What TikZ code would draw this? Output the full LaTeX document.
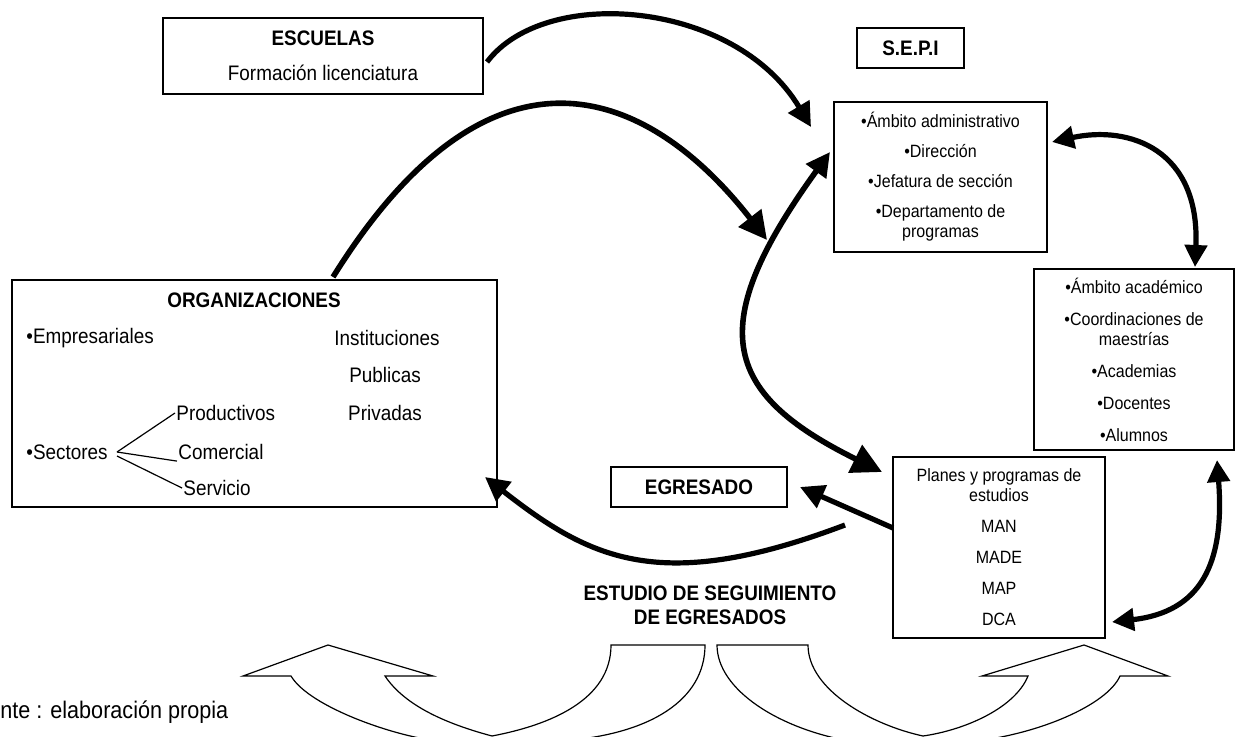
\documentclass[tikz,border=0pt]{standalone}
\usepackage{fontspec}
\setmainfont{Liberation Sans}[FakeStretch=0.9]
\usetikzlibrary{arrows.meta}

\newcommand\titulo{\fontsize{10.5}{12}\selectfont\bfseries}
\tikzset{
  caja/.style={draw, line width=0.7pt, inner sep=0pt, align=center, font=\fontsize{8.9}{10}\selectfont},
  texto/.style={inner sep=0.5pt, font=\fontsize{10.5}{12}\selectfont},
  flecha/.style={line width=2.6pt, -{Triangle[length=12pt,width=12pt]}},
  grande/.style={line width=2.8pt, -{Triangle[length=14pt,width=14pt]}},
  doble/.style={line width=2.6pt, {Triangle[length=11pt,width=11pt]}-{Triangle[length=11pt,width=11pt]}},
  hueca/.style={draw, line width=0.6pt, fill=white}
}

\begin{document}
\begin{tikzpicture}[x=0.5pt,y=-0.5pt]
\useasboundingbox (0,0) rectangle (1235,737);

% cajas
\node (escuelas) at (323,56)[caja, font=\fontsize{10.5}{12}\selectfont, minimum width=160pt, minimum height=38pt]{{\titulo ESCUELAS}\\[5.5pt]Formación licenciatura};
\node (sepi) at (910.5,48)[caja, font=\titulo, minimum width=53.5pt, minimum height=20pt]{S.E.P.I};
\node (admin) at (940.5,177)[caja, minimum width=106.5pt, minimum height=75pt]{•Ámbito administrativo\\[5pt]•Dirección\\[5pt]•Jefatura de sección\\[5pt]•Departamento de\\programas};
\node (academico) at (1134,359.5)[caja, minimum width=100pt, minimum height=90.5pt]{•Ámbito académico\\[6pt]•Coordinaciones de\\maestrías\\[6pt]•Academias\\[6pt]•Docentes\\[6pt]•Alumnos};
\node (planes) at (999,547.5)[caja, minimum width=106pt, minimum height=90.5pt]{Planes y programas de\\estudios\\[5.5pt]MAN\\[5.5pt]MADE\\[5.5pt]MAP\\[5.5pt]DCA};
\node (egresado) at (699,487)[caja, font=\titulo, minimum width=88pt, minimum height=20pt]{EGRESADO};

\begin{scope}
\node (org) at (254.5,393.5)[caja, minimum width=242.5pt, minimum height=113.5pt]{};
\node (orgtit) at (254,300)[font=\titulo]{ORGANIZACIONES};
\node (empresariales) at (25,338)[texto, anchor=west]{•Empresariales};
\node (instituciones) at (387,338)[texto]{Instituciones};
\node (publicas) at (385,375)[texto]{Publicas};
\node (privadas) at (385,413)[texto]{Privadas};
\node (sectores) at (25,452)[texto, anchor=west]{•Sectores};
\node (productivos) at (175,413)[texto, anchor=west]{Productivos};
\node (comercial) at (177,452)[texto, anchor=west]{Comercial};
\node (servicio) at (182,488)[texto, anchor=west]{Servicio};
\draw[line width=0.6pt] ([xshift=4pt]sectores.east) -- (productivos.west);
\draw[line width=0.6pt] ([xshift=4pt]sectores.east) -- (comercial.south west);
\draw[line width=0.6pt] ([xshift=4pt,yshift=-2pt]sectores.east) -- (servicio.west);
\end{scope}

\node (estudio) at (710,605)[align=center, font=\titulo]{ESTUDIO DE SEGUIMIENTO\\DE EGRESADOS};
\node (fuente) at (0,712)[anchor=west, inner sep=0pt, font=\fontsize{12}{14}\selectfont]{nte : elaboración propia};

% extremos libres de las flechas
\coordinate (sal1) at (487,62);
\coordinate (pun1) at (811,127);
\coordinate (sal2) at (333,277);
\coordinate (pun2) at (767,240);
\coordinate (pun3a) at (830,152);
\coordinate (pun3b) at (882,472);
\coordinate (sal4) at (893,528);
\coordinate (pun4) at (800,487);
\coordinate (sal5) at (845,525);
\coordinate (pun5) at (485,477);
\coordinate (pun6a) at (1052,142);
\coordinate (pun6b) at (1195,267);
\coordinate (pun7a) at (1217,460);
\coordinate (pun7b) at (1112,622);

\draw[flecha] (sal1) .. controls (545,-15) and (735,0) .. (pun1);
\draw[grande] (sal2) .. controls (493,20) and (650,90) .. (pun2);
\draw[line width=2.8pt, {Triangle[length=12pt,width=12pt]}-{Triangle[length=15pt,width=15pt]}] (pun3a) .. controls (705,325) and (720,392) .. (pun3b);
\draw[flecha] (sal4) -- (pun4);
\draw[flecha] (sal5) .. controls (660,595) and (590,559) .. (pun5);
\draw[doble] (pun6a) .. controls (1130,125) and (1200,150) .. (pun6b);
\draw[doble] (pun7a) .. controls (1225,565) and (1200,612) .. (pun7b);

% flechas huecas de abajo
\draw[hueca] (328,645) -- (433,676) -- (385,676)
  .. controls (405,706) and (447,724) .. (492,736)
  .. controls (550,725) and (611,700) .. (611,645) -- (705,645)
  .. controls (705,700) and (650,735) .. (560,741) -- (440,741)
  .. controls (400,738) and (310,708) .. (291,676) -- (243,676) -- cycle;
\draw[hueca] (717,645) -- (808,645)
  .. controls (808,690) and (872,725) .. (923,736)
  .. controls (965,730) and (1015,708) .. (1028,676) -- (982,676) -- (1084,645) -- (1168,676) -- (1120,676)
  .. controls (1107,705) and (1038,735) .. (968,742) -- (855,742)
  .. controls (780,730) and (717,690) .. (717,645) -- cycle;
\end{tikzpicture}
\end{document}
